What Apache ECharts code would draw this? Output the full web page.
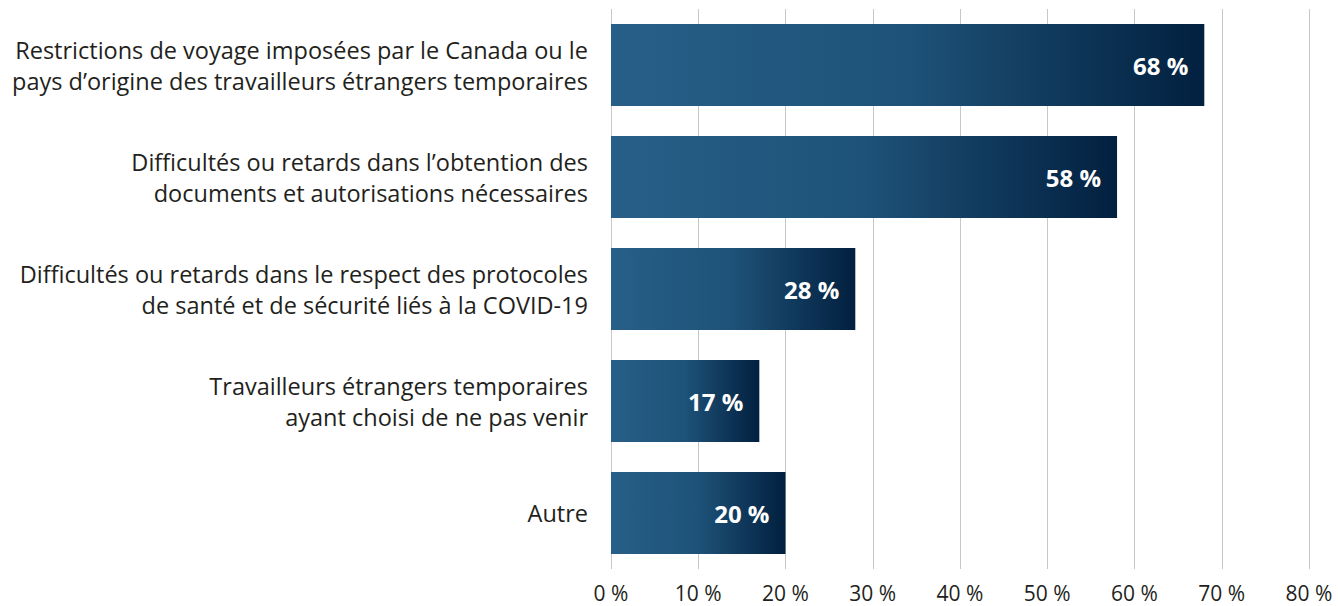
<!DOCTYPE html>
<html>
<head>
<meta charset="utf-8">
<script src="https://cdn.jsdelivr.net/npm/echarts@6/dist/echarts.min.js"></script>
<style>
  html, body { margin: 0; padding: 0; background: #fff; }
  #chart { width: 1338px; height: 606px; }
</style>
</head>
<body>
<div id="chart"></div>
<script>
// catégories (de haut en bas)
const categories = [
  'Restrictions de voyage imposées par le Canada ou le\npays d’origine des travailleurs étrangers temporaires',
  'Difficultés ou retards dans l’obtention des\ndocuments et autorisations nécessaires',
  'Difficultés ou retards dans le respect des protocoles\nde santé et de sécurité liés à la COVID-19',
  'Travailleurs étrangers temporaires\nayant choisi de ne pas venir',
  'Autre'
];
const values = [68, 58, 28, 17, 20];
const axisMax = 80;
const axisStep = 10;

const chart = echarts.init(document.getElementById('chart'), null, { renderer: 'svg' });

const option = {
  animation: false,
  textStyle: { fontFamily: 'Open Sans, sans-serif' },
  grid: { left: 611, right: 29, top: 9, bottom: 37 },
  xAxis: {
    type: 'value',
    min: 0,
    max: axisMax,
    interval: axisStep,
    axisLine: { show: false },
    axisTick: { show: false },
    splitLine: { lineStyle: { color: '#c8c8c8', width: 1 } },
    axisLabel: {
      formatter: '{value} %',
      color: '#231f20',
      fontSize: 21,
      margin: 13
    }
  },
  yAxis: {
    type: 'category',
    data: categories,
    inverse: true,
    axisLine: { show: false },
    axisTick: { show: false },
    axisLabel: {
      color: '#231f20',
      fontSize: 23.5,
      lineHeight: 31,
      align: 'right',
      margin: 23
    }
  },
  series: [
    {
      type: 'bar',
      data: values,
      barWidth: 82,
      itemStyle: {
        color: new echarts.graphic.LinearGradient(0, 0, 1, 0, [
          { offset: 0, color: '#275f88' },
          { offset: 0.5, color: '#1e5278' },
          { offset: 1, color: '#02203f' }
        ])
      },
      label: {
        show: true,
        position: 'insideRight',
        distance: 16,
        formatter: p => p.value + ' %',
        color: '#ffffff',
        fontWeight: 'bold',
        fontSize: 24
      }
    }
  ]
};

chart.setOption(option);
</script>
</body>
</html>
